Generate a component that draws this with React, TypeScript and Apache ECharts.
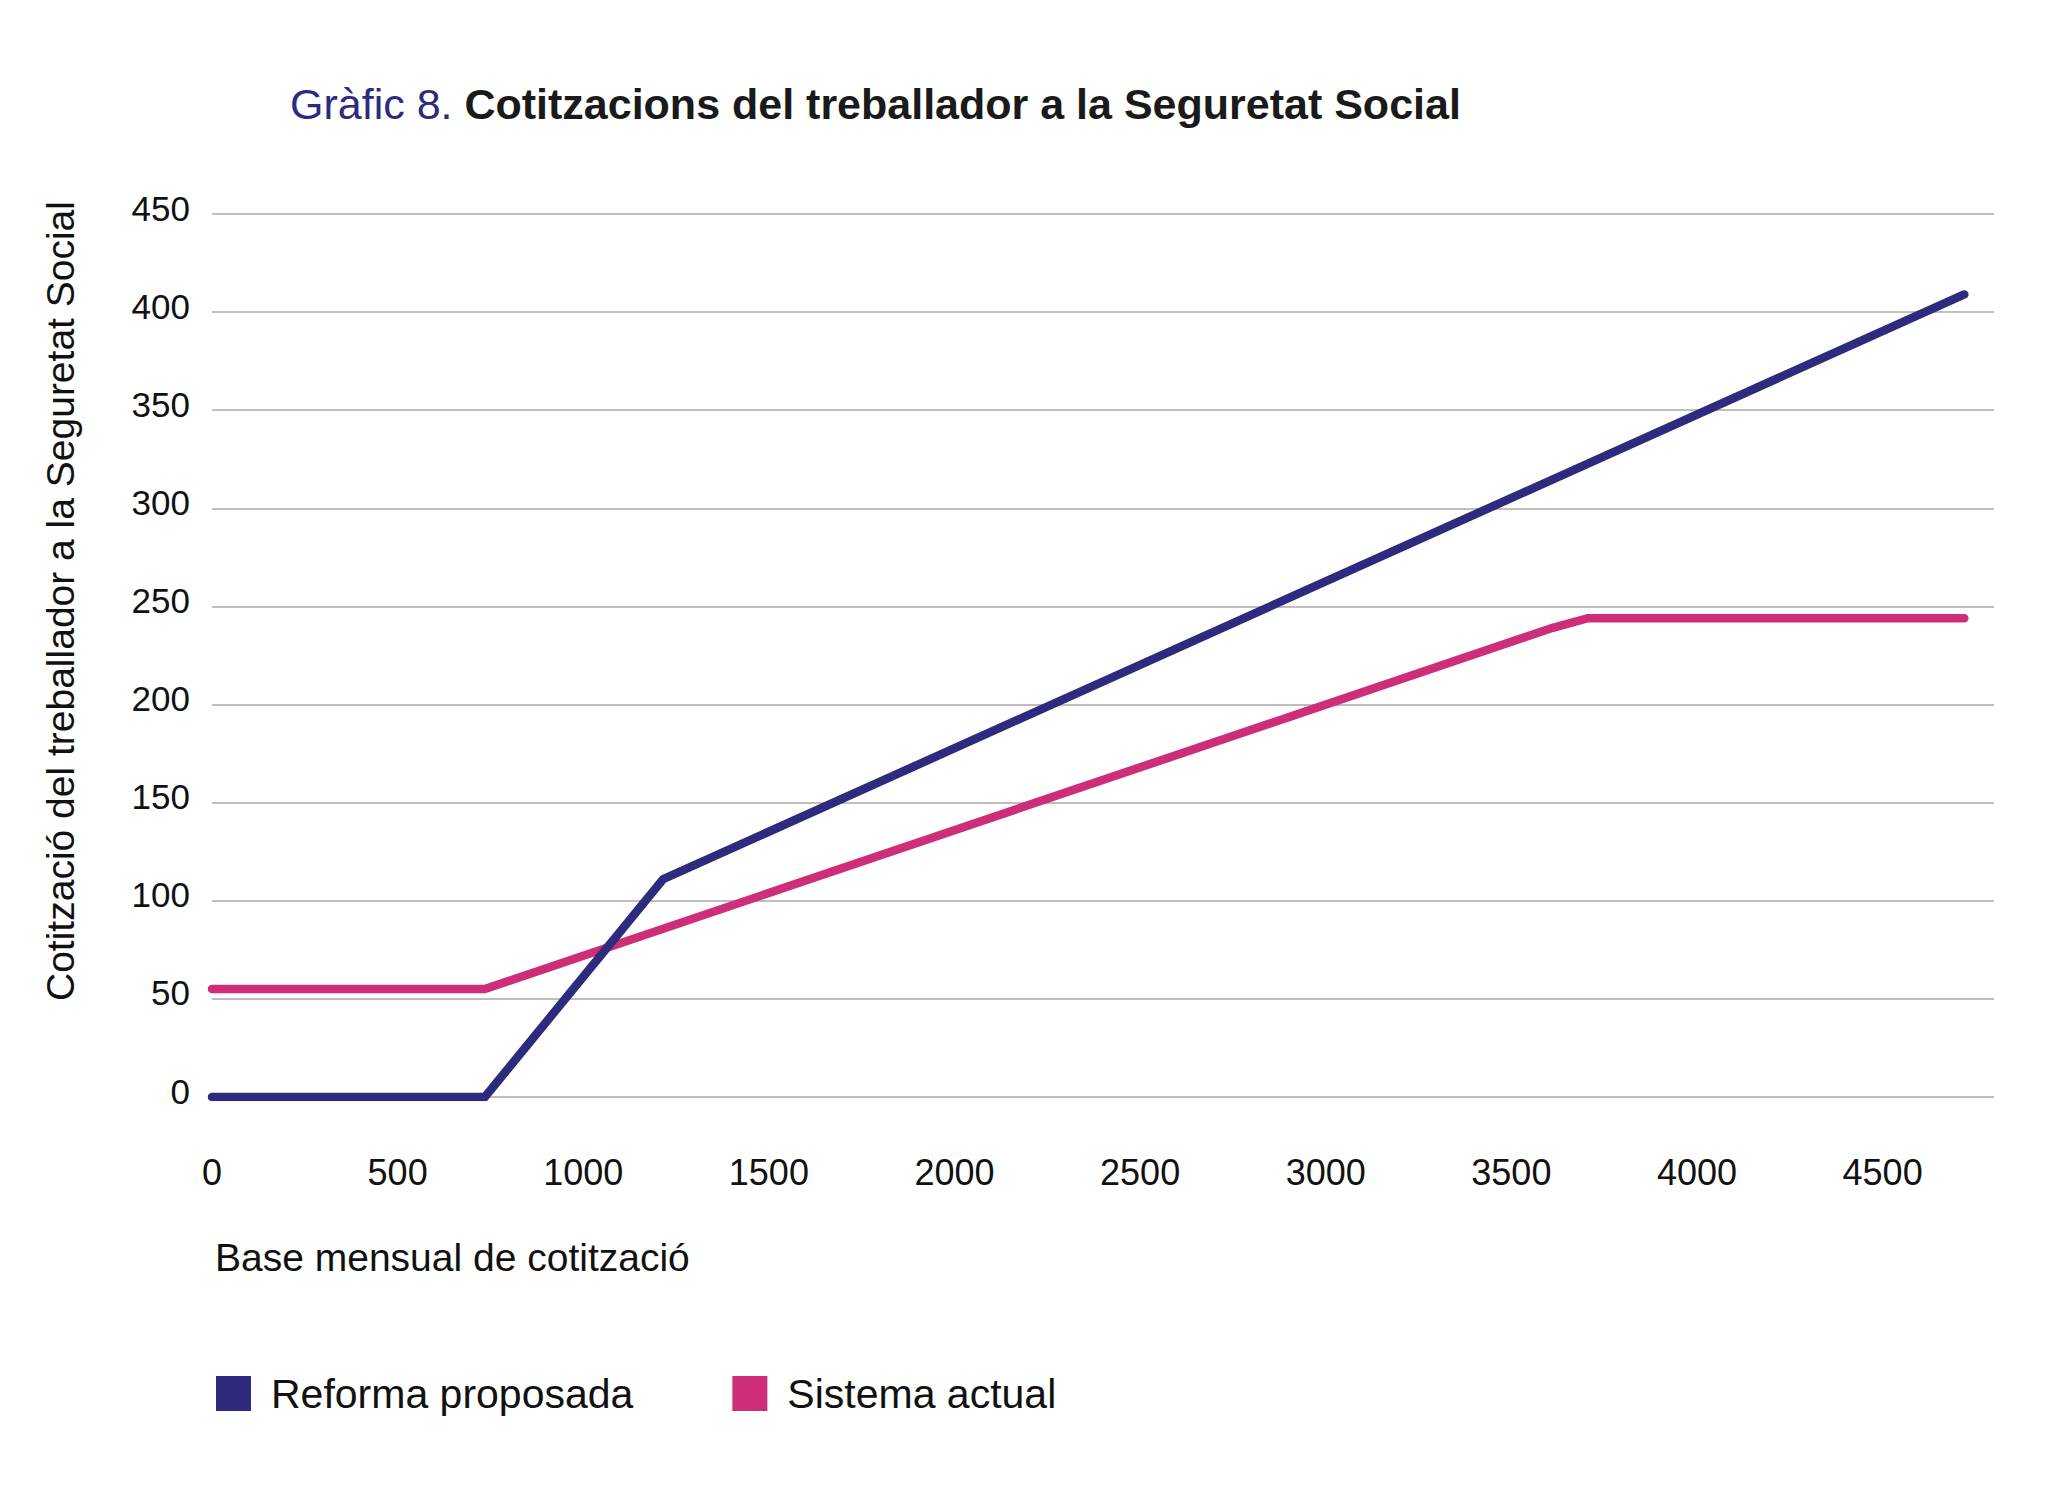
import React, { useEffect, useRef } from "react";
import * as echarts from "echarts";

const reformaX = [0, 735, 1215, 4720];
const reformaY = [0, 0, 111, 409];
const actualX = [0, 735, 3609, 3706, 4720];
const actualY = [55, 55, 239, 244, 244];
const seriesNames = ["Reforma proposada", "Sistema actual"];
const seriesColors = ["#2E2A7E", "#CE2E77"];
const titleLead = "Gràfic 8.";
const titleMain = "Cotitzacions del treballador a la Seguretat Social";
const xAxisTitle = "Base mensual de cotització";
const yAxisTitle = "Cotització del treballador a la Seguretat Social";

const FONT = "'Liberation Sans', Arial, sans-serif";

export default function App() {
  const ref = useRef<HTMLDivElement>(null);
  useEffect(() => {
    document.body.style.margin = "0";
    const chart = echarts.init(ref.current!, null, { renderer: "svg" });
    const pairs = (xs: number[], ys: number[]) => xs.map((x, i) => [x, ys[i]]);
    chart.setOption({
      animation: false,
      backgroundColor: "#ffffff",
      textStyle: { fontFamily: FONT },
      grid: { left: 212, right: 76, top: 214, bottom: 389, containLabel: false },
      xAxis: {
        type: "value",
        min: 0,
        max: 4800,
        interval: 500,
        axisLine: { show: false },
        axisTick: { show: false },
        splitLine: { show: false },
        axisLabel: {
          showMaxLabel: false,
          margin: 57,
          fontSize: 36,
          color: "#111111",
          fontFamily: FONT,
          formatter: (v: number) => String(v),
        },
      },
      yAxis: {
        type: "value",
        min: 0,
        max: 450,
        interval: 50,
        axisLine: { show: false },
        axisTick: { show: false },
        splitLine: { show: true, lineStyle: { color: "#A8A8A8", width: 1.5 } },
        axisLabel: {
          margin: 22,
          fontSize: 35,
          color: "#111111",
          fontFamily: FONT,
          verticalAlign: "bottom",
          lineHeight: 12,
          formatter: (v: number) => String(v),
        },
      },
      legend: {
        left: 216,
        top: 1373,
        padding: 0,
        itemWidth: 35,
        itemHeight: 35,
        itemGap: 99,
        icon: "rect",
        textStyle: { fontSize: 41, color: "#111111", fontFamily: FONT, padding: [0, 0, 0, 15] },
        data: seriesNames,
      },
      series: [
        {
          name: seriesNames[0],
          type: "line",
          data: pairs(reformaX, reformaY),
          showSymbol: false,
          symbol: "none",
          color: seriesColors[0],
          lineStyle: { width: 8.5, color: seriesColors[0], cap: "round", join: "miter" },
          z: 3,
        },
        {
          name: seriesNames[1],
          type: "line",
          data: pairs(actualX, actualY),
          showSymbol: false,
          symbol: "none",
          color: seriesColors[1],
          lineStyle: { width: 8.5, color: seriesColors[1], cap: "round", join: "miter" },
          z: 2,
        },
      ],
      graphic: [
        {
          type: "text",
          left: 290,
          top: 82,
          style: {
            text: `{a|${titleLead} }{b|${titleMain}}`,
            rich: {
              a: { fontSize: 43, fontFamily: FONT, fill: "#2E2A80", fontWeight: "normal" },
              b: { fontSize: 43, fontFamily: FONT, fill: "#1A1A1A", fontWeight: "bold" },
            },
          },
        },
        {
          type: "text",
          left: 215,
          top: 1238,
          style: { text: xAxisTitle, fontSize: 39, fontFamily: FONT, fill: "#111111" },
        },
        {
          type: "text",
          x: 60,
          y: 601,
          rotation: Math.PI / 2,
          style: {
            text: yAxisTitle,
            fontSize: 39,
            fontFamily: FONT,
            fill: "#111111",
            align: "center",
            verticalAlign: "middle",
          },
        },
      ],
    });
    return () => chart.dispose();
  }, []);
  return <div ref={ref} style={{ width: 2070, height: 1486 }} />;
}
